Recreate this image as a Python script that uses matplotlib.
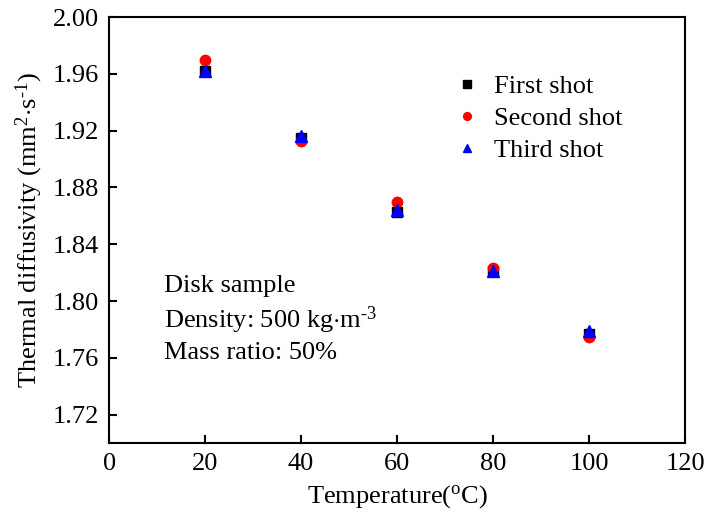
import matplotlib.pyplot as plt

plt.rcParams['font.family'] = 'Liberation Serif'
plt.rcParams['mathtext.fontset'] = 'custom'
plt.rcParams['mathtext.rm'] = 'Liberation Serif'

# temperatures and three repeated measurements
temperature = [20, 40, 60, 80, 100]
first_shot = [1.962, 1.915, 1.863, 1.821, 1.777]
second_shot = [1.970, 1.913, 1.870, 1.823, 1.775]
third_shot = [1.962, 1.916, 1.864, 1.821, 1.779]

x_ticks = [0, 20, 40, 60, 80, 100, 120]
y_ticks = [1.72, 1.76, 1.80, 1.84, 1.88, 1.92, 1.96, 2.00]

fs = 19

fig = plt.figure(figsize=(7.04, 5.17), dpi=100)
ax = fig.add_axes([0.155, 0.143, 0.818, 0.824])

ax.plot(temperature, first_shot, 's', color='black', ms=7, label='First shot')
ax.plot(temperature, second_shot, 'o', color='red', ms=7.5, label='Second shot')
ax.plot(temperature, third_shot, '^', color='blue', ms=8, label='Third shot')

ax.set_xlim(0, 120)
ax.set_ylim(1.70, 2.00)
ax.set_xticks(x_ticks)
ax.set_yticks(y_ticks)
ax.set_yticklabels(['%.2f' % v for v in y_ticks])
ax.tick_params(direction='in', length=6, width=1.5, labelsize=fs, pad=7)
for s in ax.spines.values():
    s.set_linewidth(1.5)

ax.set_xlabel('Temperature($\\mathregular{^o}$C)', fontsize=fs, labelpad=6)
ax.set_ylabel('Thermal diffusivity (mm$\\mathregular{^2}$$\\cdot$s$\\mathregular{^{\u20101}}$)',
              fontsize=fs, labelpad=6)

ax.legend(loc='upper left', bbox_to_anchor=(0.598, 0.865), frameon=False,
          fontsize=fs, markerscale=0.75, handlelength=1.0, handletextpad=0.55,
          labelspacing=0.32, borderpad=0, borderaxespad=0)

ax.text(0.095, 0.395, 'Disk sample\nDensity: 500 kg$\\cdot$m$\\mathregular{^{\u20103}}$\nMass ratio: 50%',
        transform=ax.transAxes, fontsize=fs, va='top', linespacing=1.35)

fig.savefig('out.png', dpi=100)
